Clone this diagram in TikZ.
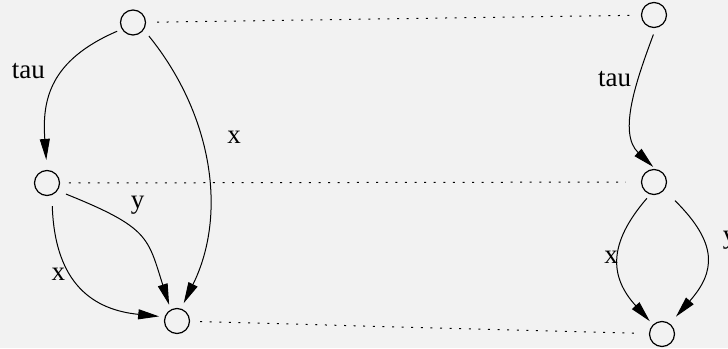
\documentclass[tikz,border=0pt]{standalone}
\usepackage{fontspec}
\setmainfont{Liberation Serif}
\usetikzlibrary{arrows.meta}
\definecolor{bgc}{RGB}{242,242,242}

\begin{document}
\begin{tikzpicture}[x=0.5pt,y=-0.5pt,font=\fontsize{13.5}{16}\selectfont,
  >={Triangle[length=10.5pt,width=5pt]},
  proc/.style={draw,circle,minimum size=12.5pt,inner sep=0pt,line width=0.6pt},
  move/.style={->,line width=0.5pt},
  bisim/.style={line width=0.5pt,dash pattern=on 1pt off 3.8pt},
  lbl/.style={anchor=base,inner sep=0pt}]
  \useasboundingbox[fill=bgc] (0,0) rectangle (728,348);
  % left process
  \node[proc] (p0) at (133,22.5) {};
  \node[proc] (p1) at (47,183) {};
  \node[proc] (p2) at (177,321) {};
  % right process
  \node[proc] (q0) at (654,15) {};
  \node[proc] (q1) at (654,182) {};
  \node[proc] (q2) at (662,334) {};
  % transitions
  \draw[move,shorten <=2.5pt,shorten >=5pt] (p0.211) .. controls +(-72,31) and +(-5,-70) .. (p1.90);
  \draw[move,shorten <=4pt,shorten >=3pt] (p0.-34) .. controls +(68,84) and +(47,-95) .. (p2.72);
  \draw[move,shorten <=4.5pt,shorten >=2.5pt] (p1.-36) .. controls +(92,37) and +(-23,-72) .. (p2.119);
  \draw[move,shorten <=5.5pt,shorten >=2.7pt] (p1.-68) .. controls +(3,90) and +(-70,-7) .. (p2.162);
  \draw[move,shorten <=3.5pt,shorten >=1.5pt] (q0.-82) .. controls +(-19.5,52.4) and +(-37.6,-35.8) .. (q1.84);
  \draw[move,shorten <=2.5pt,shorten >=2.3pt] (q1.-107) .. controls +(-42.4,49.1) and +(-43.5,-47.8) .. (q2.134);
  \draw[move,shorten <=7.5pt,shorten >=4.6pt] (q1.-38) .. controls +(53.9,53.4) and +(45.8,-51.9) .. (q2.53);
  % labels
  \node[lbl] (t0) at (28.3,78.3) {tau};
  \node[lbl] (x0) at (234,143.3) {x};
  \node[lbl] (y1) at (137.5,208.7) {y};
  \node[lbl] (x1) at (58.3,280) {x};
  \node[lbl] (t1) at (614.5,86) {tau};
  \node[lbl] (x2) at (611.2,263.3) {x};
  \node[lbl] (y2) at (729.5,243.7) {y};
  % matching states
  \draw[bisim,shorten <=5.5pt,shorten >=5pt] (p0) -- (q0);
  \draw[bisim,shorten <=4.4pt,shorten >=7.5pt] (p1) -- (q1);
  \draw[bisim,shorten <=5pt,shorten >=4pt] (p2) -- (q2);
\end{tikzpicture}
\end{document}
